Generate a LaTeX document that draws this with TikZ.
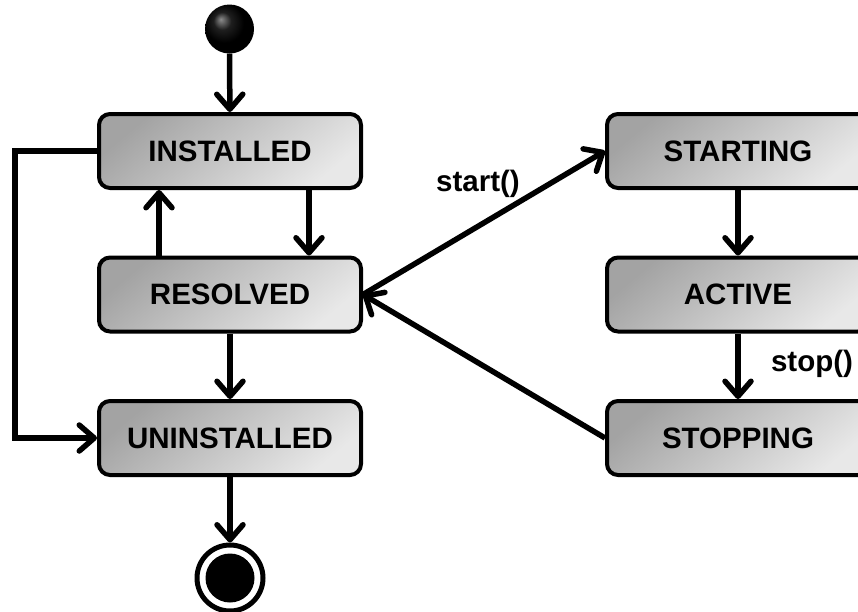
\documentclass[tikz,border=0pt]{standalone}
\usepackage{fontspec}
\setmainfont{Liberation Sans}
\usetikzlibrary{positioning,shapes,arrows.meta,shadows}
\pgfdeclareradialshading{blackball}{\pgfpoint{-9bp}{10bp}}{color(0bp)=(black!45); color(9bp)=(black!88); color(20bp)=(black); color(50bp)=(black)}
\tikzstyle{state} = [rectangle, rounded corners=11pt, minimum width=262pt, minimum height=74pt, text centered, draw=black, line width=4pt, top color=black!36, bottom color=black!9, shading angle=40, font=\fontsize{29.5}{34}\selectfont\bfseries]
\tikzstyle{startdot} = [circle, inner sep=0pt, minimum size=49pt, shading=blackball]
\tikzstyle{enddot} = [circle, draw=black, line width=5pt, minimum size=66pt, inner sep=0pt, path picture={\fill[black] (path picture bounding box.center) circle (24.5pt);}]
\tikzstyle{connect} = [line width=5.5pt, -{Straight Barb[length=15pt, width=26pt, round]}]
\tikzstyle{lbl} = [font=\fontsize{29.5}{34}\selectfont\bfseries]
\begin{document}
\begin{tikzpicture}[x=1pt, y=-1pt, node distance=143.5pt]
			\clip (0,0) rectangle (858,611);
			\node (init) [startdot] at (229.5,29) {};
			\node (inst) [state] at (230,151) {INSTALLED};
			\node (res) [state,below of=inst] {RESOLVED};
			\node (uninst) [state,below of=res] {UNINSTALLED};
			\node (final) [enddot,node distance=140pt,below of=uninst] {};
			\node (stg) [state,node distance=508pt,right of=inst] {STARTING};
			\node (act) [state,below of=stg] {ACTIVE};
			\node (stp) [state,below of=act] {STOPPING};
			\node (startlbl) [lbl] at (478,184) {start()};
			\node (stoplbl) [lbl] at (812,364) {stop()};
			%-----------------------------------------------
			%-----------------------------------------------
			\draw [connect] (init) -- (inst);
			\draw [connect] ([xshift=79pt]inst.south) -- ([xshift=79pt]res.north);
			\draw [connect] ([xshift=-71pt]res.north) -- ([xshift=-71pt]inst.south);
			\draw [connect] (res) -- (uninst);
			\draw [connect] (uninst) -- (final);
			\draw [connect] (inst.west) -- ++(-82pt,0) |- (uninst.west);
			\draw [connect] (res.east) -- (stg.west);
			\draw [connect] (stg) -- (act);
			\draw [connect] (act) -- (stp);
			\draw [connect] (stp.west) -- (res.east);
			\end{tikzpicture}
\end{document}
